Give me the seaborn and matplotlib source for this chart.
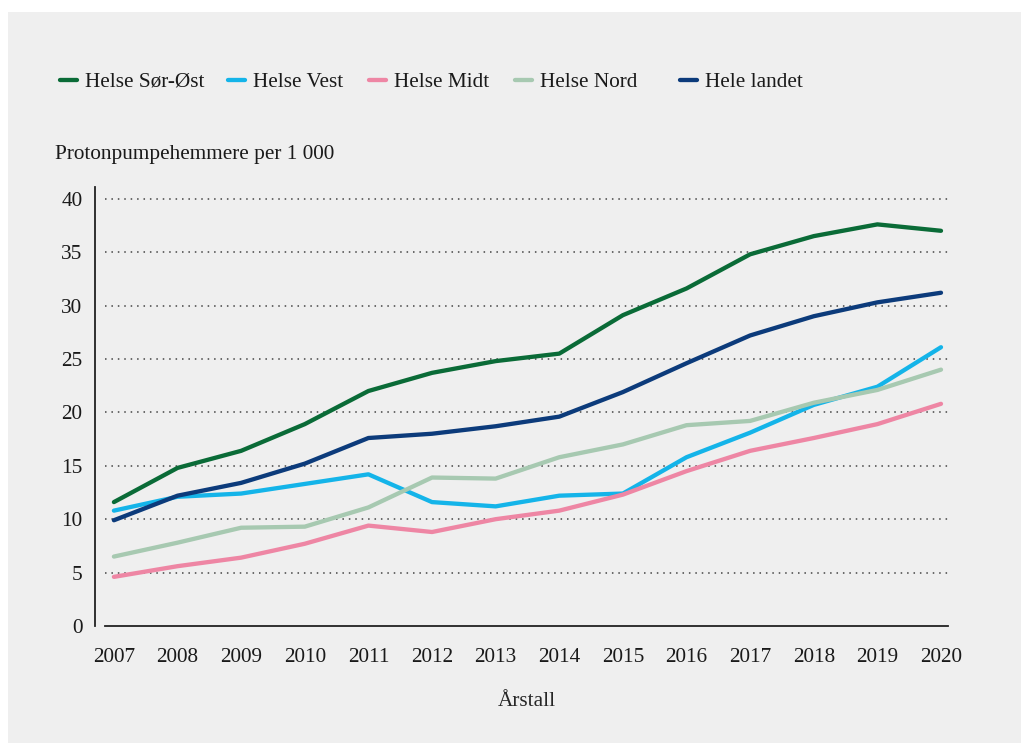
import matplotlib
matplotlib.use('Agg')
import matplotlib.pyplot as plt
from matplotlib.patches import Rectangle
import pandas as pd
import seaborn as sns

years = list(range(2007, 2021))
sor_ost = [11.6, 14.8, 16.4, 18.9, 22.0, 23.7, 24.8, 25.5, 29.1, 31.6, 34.8, 36.5, 37.6, 37.0]
vest = [10.8, 12.1, 12.4, 13.3, 14.2, 11.6, 11.2, 12.2, 12.4, 15.8, 18.1, 20.7, 22.4, 26.1]
midt = [4.6, 5.6, 6.4, 7.7, 9.4, 8.8, 10.0, 10.8, 12.3, 14.5, 16.4, 17.6, 18.9, 20.8]
nord = [6.5, 7.8, 9.2, 9.3, 11.1, 13.9, 13.8, 15.8, 17.0, 18.8, 19.2, 20.9, 22.1, 24.0]
landet = [9.9, 12.2, 13.4, 15.2, 17.6, 18.0, 18.7, 19.6, 21.9, 24.6, 27.2, 29.0, 30.3, 31.2]

series = {
    'Helse Sør-Øst': sor_ost,
    'Helse Vest': vest,
    'Helse Midt': midt,
    'Helse Nord': nord,
    'Hele landet': landet,
}
colors = ['#0a6b37', '#14b4e9', '#ee86a4', '#a7c9b1', '#0c3b7b']

df = pd.DataFrame([
    {'Årstall': y, 'Region': name, 'Verdi': v}
    for name, vals in series.items()
    for y, v in zip(years, vals)
])

sns.set_style('white')
plt.rcParams['font.family'] = ['Liberation Serif', 'DejaVu Serif']
plt.rcParams['text.color'] = '#1a1a1a'

fig = plt.figure(figsize=(10.21, 7.43), dpi=100)
fig.patch.set_facecolor('white')
# grey panel behind everything
fig.patches.append(Rectangle((8 / 1021, 0), 1, 1 - 12 / 743, transform=fig.transFigure,
                             facecolor='#efefef', edgecolor='none', zorder=-10))

ax = fig.add_axes([105 / 1021, 1 - 626 / 743, (948 - 105) / 1021, (626 - 187) / 743])
ax.set_facecolor('none')

sns.lineplot(data=df, x='Årstall', y='Verdi', hue='Region', hue_order=list(series.keys()),
             palette=colors, linewidth=3.1, solid_capstyle='round', ax=ax)

ax.set_xlim(2006.86, 2020.11)
ax.set_ylim(0, 41.1)
ax.set_xticks(years)
ax.set_yticks(range(0, 45, 5))
ax.tick_params(axis='both', length=0, labelsize=15.3, colors='#1a1a1a')
ax.tick_params(axis='x', pad=16)
ax.tick_params(axis='y', pad=9)

for y in range(5, 45, 5):
    ax.axhline(y, color='#444444', linewidth=1.1, linestyle=(0, (1, 3.2)), zorder=0)

sns.despine(ax=ax, top=True, right=True)
ax.spines['left'].set_position(('outward', 7.2))
ax.spines['left'].set_color('#222222')
ax.spines['left'].set_linewidth(1.3)
ax.spines['bottom'].set_color('#222222')
ax.spines['bottom'].set_linewidth(1.3)

ax.set_xlabel('Årstall', fontsize=15.3, labelpad=18)
ax.set_ylabel('')

fig.text(55 / 1021, 1 - 155 / 743, 'Protonpumpehemmere per 1 000', fontsize=15.3,
         ha='left', va='center')

# legend entries placed one by one like in the original layout
handles, labels = ax.get_legend_handles_labels()
ax.get_legend().remove()
legend_x = [60, 228, 369, 515, 680]
for h, lab, x in zip(handles, labels, legend_x):
    fig.legend([h], [lab], loc='center left', bbox_to_anchor=(x / 1021, 1 - 82 / 743),
               frameon=False, fontsize=15.3, handlelength=0.82, handletextpad=0.34,
               borderpad=0, borderaxespad=0)

plt.savefig('out.png', dpi=100)
